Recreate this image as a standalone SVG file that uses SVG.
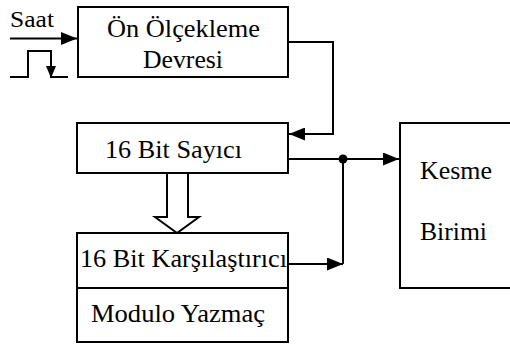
<svg xmlns="http://www.w3.org/2000/svg" width="510" height="347" viewBox="0 0 510 347">
<style>
.box{fill:#fff;stroke:#000;stroke-width:2}
.ln{fill:none;stroke:#000;stroke-width:2}
text{font-family:'Liberation Serif','Times New Roman',serif;font-size:25px;fill:#000}
</style>
<defs>
<marker id="ah" viewBox="0 0 16 13" refX="16" refY="6.5" markerWidth="16" markerHeight="13" markerUnits="userSpaceOnUse" orient="auto">
<path d="M0,0 L16,6.5 L0,13 Z" fill="#000"/>
</marker>
<marker id="ahs" viewBox="0 0 10 12" refX="10" refY="5" markerWidth="10" markerHeight="12" markerUnits="userSpaceOnUse" orient="auto">
<path d="M0,0 L12,5 L0,10 Z" fill="#000"/>
</marker>
</defs>
<rect width="510" height="347" fill="#fff"/>
<g id="saat">
<text x="10" y="27" style="font-size:23px" textLength="44" lengthAdjust="spacingAndGlyphs">Saat</text>
<path class="ln" d="M10,77 H28 V51 H51 V77 H68"/>
</g>
<g id="on-olcekleme">
<rect class="box" x="78" y="7" width="210" height="70"/>
<text x="107" y="37" textLength="153" lengthAdjust="spacingAndGlyphs">Ön Ölçekleme</text>
<text x="143" y="68" textLength="80" lengthAdjust="spacingAndGlyphs">Devresi</text>
</g>
<g id="sayici">
<rect class="box" x="77" y="123" width="211" height="50"/>
<text x="105" y="158" textLength="137" lengthAdjust="spacingAndGlyphs">16 Bit Sayıcı</text>
</g>
<g id="karsilastirici">
<rect class="box" x="77" y="233" width="211" height="55"/>
<text x="80" y="267" textLength="207" lengthAdjust="spacingAndGlyphs">16 Bit Karşılaştırıcı</text>
</g>
<g id="modulo">
<rect class="box" x="77" y="288" width="211" height="54"/>
<text x="91" y="322" textLength="174" lengthAdjust="spacingAndGlyphs">Modulo Yazmaç</text>
</g>
<g id="kesme">
<rect class="box" x="400" y="123" width="120" height="165"/>
<text x="420" y="179" textLength="72" lengthAdjust="spacingAndGlyphs">Kesme</text>
<text x="420" y="240" textLength="67" lengthAdjust="spacingAndGlyphs">Birimi</text>
</g>
<g id="connectors">
<path class="ln" d="M10,38.5 H77" marker-end="url(#ah)"/>
<path class="ln" d="M51,51 V76" marker-end="url(#ahs)"/>
<path class="ln" d="M288,42 H333 V134 H289" marker-end="url(#ah)"/>
<path class="ln" d="M288,159 H399" marker-end="url(#ah)"/>
<path class="ln" d="M288,264 H343" marker-end="url(#ah)"/>
<path class="ln" d="M343,264 V159"/>
<circle cx="343" cy="159" r="4.5" fill="#000"/>
<path class="ln" d="M167,173 V217 H155 L177,233 L199,217 H188 V173" fill="#fff"/>
</g>
</svg>
